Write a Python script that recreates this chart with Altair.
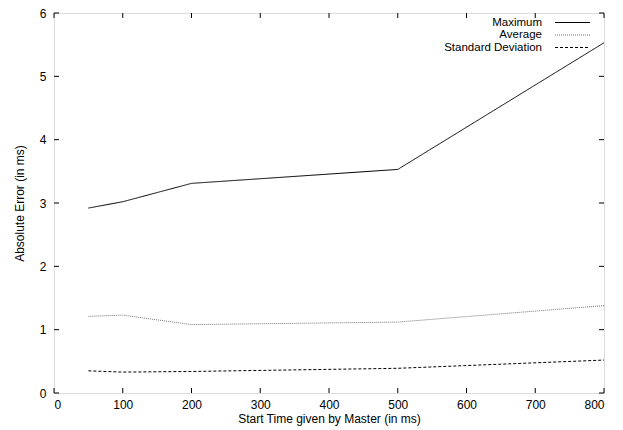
import altair as alt
import pandas as pd

start_times = [50, 100, 200, 500, 800]
maximum = [2.92, 3.02, 3.31, 3.53, 5.53]
average = [1.21, 1.23, 1.08, 1.12, 1.38]
std_dev = [0.35, 0.33, 0.34, 0.39, 0.52]
series_names = ["Maximum", "Average", "Standard Deviation"]
x_ticks = [0, 100, 200, 300, 400, 500, 600, 700, 800]
y_ticks = [0, 1, 2, 3, 4, 5, 6]

W, H = 550, 380
FONT = "Liberation Sans"
TL = 5

rows = []
for name, vals in zip(series_names, [maximum, average, std_dev]):
    for x, v in zip(start_times, vals):
        rows.append({"x": x, "y": v, "series": name})
df = pd.DataFrame(rows)

xs = alt.Scale(domain=[0, 800], nice=False, zero=False)
ys = alt.Scale(domain=[0, 6], nice=False, zero=False)

color_scale = alt.Scale(domain=series_names, range=["#000000", "#777777", "#000000"])
dash_scale = alt.Scale(domain=series_names, range=[[1, 0], [1, 1], [3, 2]])

lines = alt.Chart(df).mark_line(strokeWidth=1).encode(
    x=alt.X("x:Q", scale=xs,
            axis=alt.Axis(values=x_ticks, format="d", ticks=False, grid=False, domain=False,
                          labelPadding=6, labelFontSize=12, labelFont=FONT,
                          title="Start Time given by Master (in ms)",
                          titleFont=FONT, titleFontSize=12, titleFontWeight="normal",
                          titlePadding=3, labelColor="#000", titleColor="#000")),
    y=alt.Y("y:Q", scale=ys,
            axis=alt.Axis(values=y_ticks, format="d", ticks=False, grid=False, domain=False,
                          labelPadding=8, labelFontSize=12, labelFont=FONT,
                          title="Absolute Error (in ms)",
                          titleFont=FONT, titleFontSize=12, titleFontWeight="normal",
                          titlePadding=13, labelColor="#000", titleColor="#000")),
    color=alt.Color("series:N", scale=color_scale, legend=None),
    strokeDash=alt.StrokeDash("series:N", scale=dash_scale, legend=None),
    detail="series:N",
)

xt = pd.DataFrame({"t": x_ticks})
yt = pd.DataFrame({"t": y_ticks})

xtick_bottom = alt.Chart(xt).mark_rule(color="black", strokeWidth=1).encode(
    x=alt.X("t:Q", scale=xs), y=alt.value(H - TL), y2=alt.value(H))
xtick_top = alt.Chart(xt).mark_rule(color="black", strokeWidth=1).encode(
    x=alt.X("t:Q", scale=xs), y=alt.value(0), y2=alt.value(TL))
ytick_left = alt.Chart(yt).mark_rule(color="black", strokeWidth=1).encode(
    y=alt.Y("t:Q", scale=ys), x=alt.value(0), x2=alt.value(TL))
ytick_right = alt.Chart(yt).mark_rule(color="black", strokeWidth=1).encode(
    y=alt.Y("t:Q", scale=ys), x=alt.value(W - TL), x2=alt.value(W))

leg = pd.DataFrame({"series": series_names})
legend_y = [9.5, 22, 34.5]
leg["ly"] = legend_y

leg_text = alt.Chart(leg).mark_text(align="right", baseline="middle", font=FONT,
                                    fontSize=11.5, color="black").encode(
    text="series:N", x=alt.value(488), y=alt.Y("ly:Q", scale=None))
leg_lines = alt.Chart(leg).mark_rule(strokeWidth=1).encode(
    x=alt.value(501), x2=alt.value(536), y=alt.Y("ly:Q", scale=None),
    color=alt.Color("series:N", scale=color_scale, legend=None),
    strokeDash=alt.StrokeDash("series:N", scale=dash_scale, legend=None),
)

chart = alt.layer(lines, xtick_bottom, xtick_top, ytick_left, ytick_right,
                  leg_text, leg_lines).properties(
    width=W, height=H,
    autosize=alt.AutoSizeParams(type="none"),
    padding={"left": 46, "top": 5, "right": 10, "bottom": 36},
).configure_view(stroke="black", strokeWidth=1.5).configure(background="white")

chart.save("out.html", embed_options={"renderer": "svg", "actions": False})
